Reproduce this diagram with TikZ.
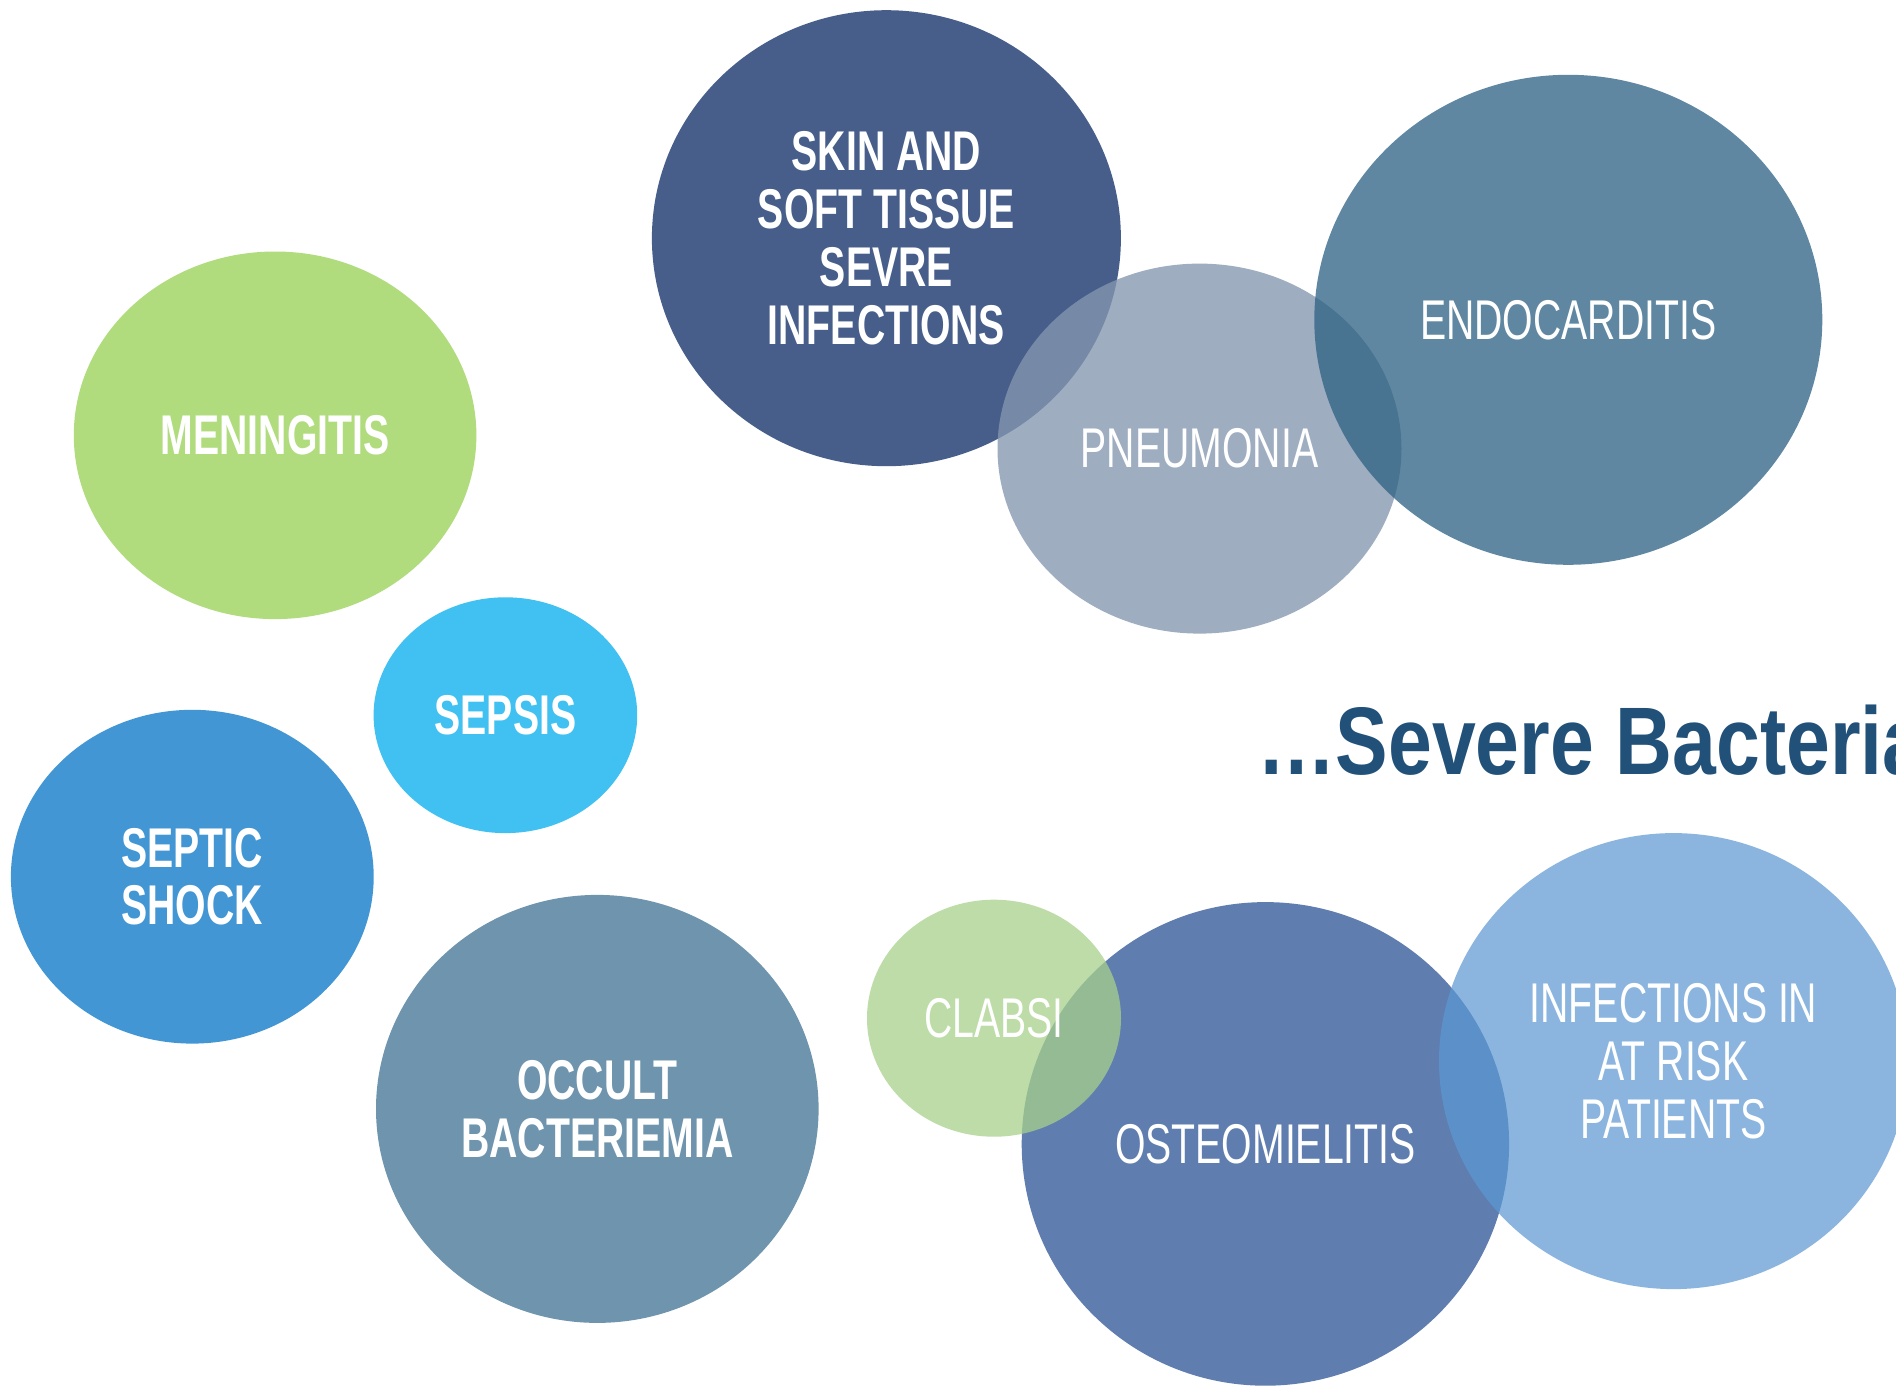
\documentclass[tikz,border=0pt]{standalone}
\usepackage{fontspec}
\setmainfont{Liberation Sans}
\newfontfamily\cond[FakeStretch=0.7]{Liberation Sans}
\newfontfamily\titlefont[FakeStretch=0.82]{Liberation Sans}
\usetikzlibrary{shapes.geometric}
\definecolor{cskin}{HTML}{475E8A}
\definecolor{cendo}{HTML}{2F6485}
\definecolor{cpneu}{HTML}{8497B0}
\definecolor{cmen}{HTML}{B0DC7E}
\definecolor{csep}{HTML}{41C1F1}
\definecolor{cshock}{HTML}{4396D4}
\definecolor{cocc}{HTML}{6F94AD}
\definecolor{cclab}{HTML}{A8D18B}
\definecolor{costeo}{HTML}{5F7DAF}
\definecolor{cinf}{HTML}{5C98D3}
\definecolor{ctitle}{HTML}{215079}
\tikzset{
  bubble/.style={ellipse, inner sep=0pt, align=center, text=white, text opacity=1,
    font=\cond\fontsize{56}{57.7}\selectfont},
  boldbubble/.style={bubble, font=\cond\bfseries\fontsize{56}{57.7}\selectfont},
}
\begin{document}
\begin{tikzpicture}[x=1pt,y=-1pt]
\useasboundingbox (0,0) rectangle (1896,1386);
\clip (0,0) rectangle (1896,1386);
\fill[white] (0,0) rectangle (1896,1386);
% top group
\node[boldbubble, fill=cskin, minimum width=469pt, minimum height=456pt] (skin) at (886.4,238.2)
  {SKIN AND\\SOFT TISSUE\\SEVRE\\INFECTIONS};
\node[bubble, fill=cpneu, fill opacity=0.78, minimum width=404pt, minimum height=370pt] (pneu) at (1199.5,448.6)
  {PNEUMONIA};
\node[bubble, fill=cendo, fill opacity=0.77, minimum width=508pt, minimum height=490pt] (endo) at (1568.3,319.8)
  {ENDOCARDITIS};
% left group
\node[boldbubble, fill=cmen, minimum width=402.6pt, minimum height=367.6pt] (men) at (275.1,435.3)
  {MENINGITIS};
\node[boldbubble, fill=csep, minimum width=263.6pt, minimum height=235.8pt] (sep) at (505.4,715.2)
  {SEPSIS};
\node[boldbubble, fill=cshock, minimum width=362.8pt, minimum height=333.8pt] (shock) at (192.3,876.7)
  {SEPTIC\\SHOCK};
\node[boldbubble, fill=cocc, minimum width=442.6pt, minimum height=428pt] (occ) at (597.3,1108.9)
  {OCCULT\\BACTERIEMIA};
% bottom right group
\node[bubble, fill=costeo, minimum width=487.4pt, minimum height=483.6pt] (osteo) at (1265.4,1143.9)
  {OSTEOMIELITIS};
\node[bubble, fill=cclab, fill opacity=0.75, minimum width=254pt, minimum height=237pt] (clab) at (994,1018.2)
  {CLABSI};
\node[bubble, fill=cinf, fill opacity=0.71, minimum width=469pt, minimum height=456pt] (inf) at (1673.5,1061.1)
  {INFECTIONS IN\\AT RISK\\PATIENTS};
% title
\node[anchor=base west, inner sep=0pt, text=ctitle, font=\titlefont\bfseries\fontsize{96}{100}\selectfont]
  (title) at (1257,774) {…Severe Bacteria};
\end{tikzpicture}
\end{document}
